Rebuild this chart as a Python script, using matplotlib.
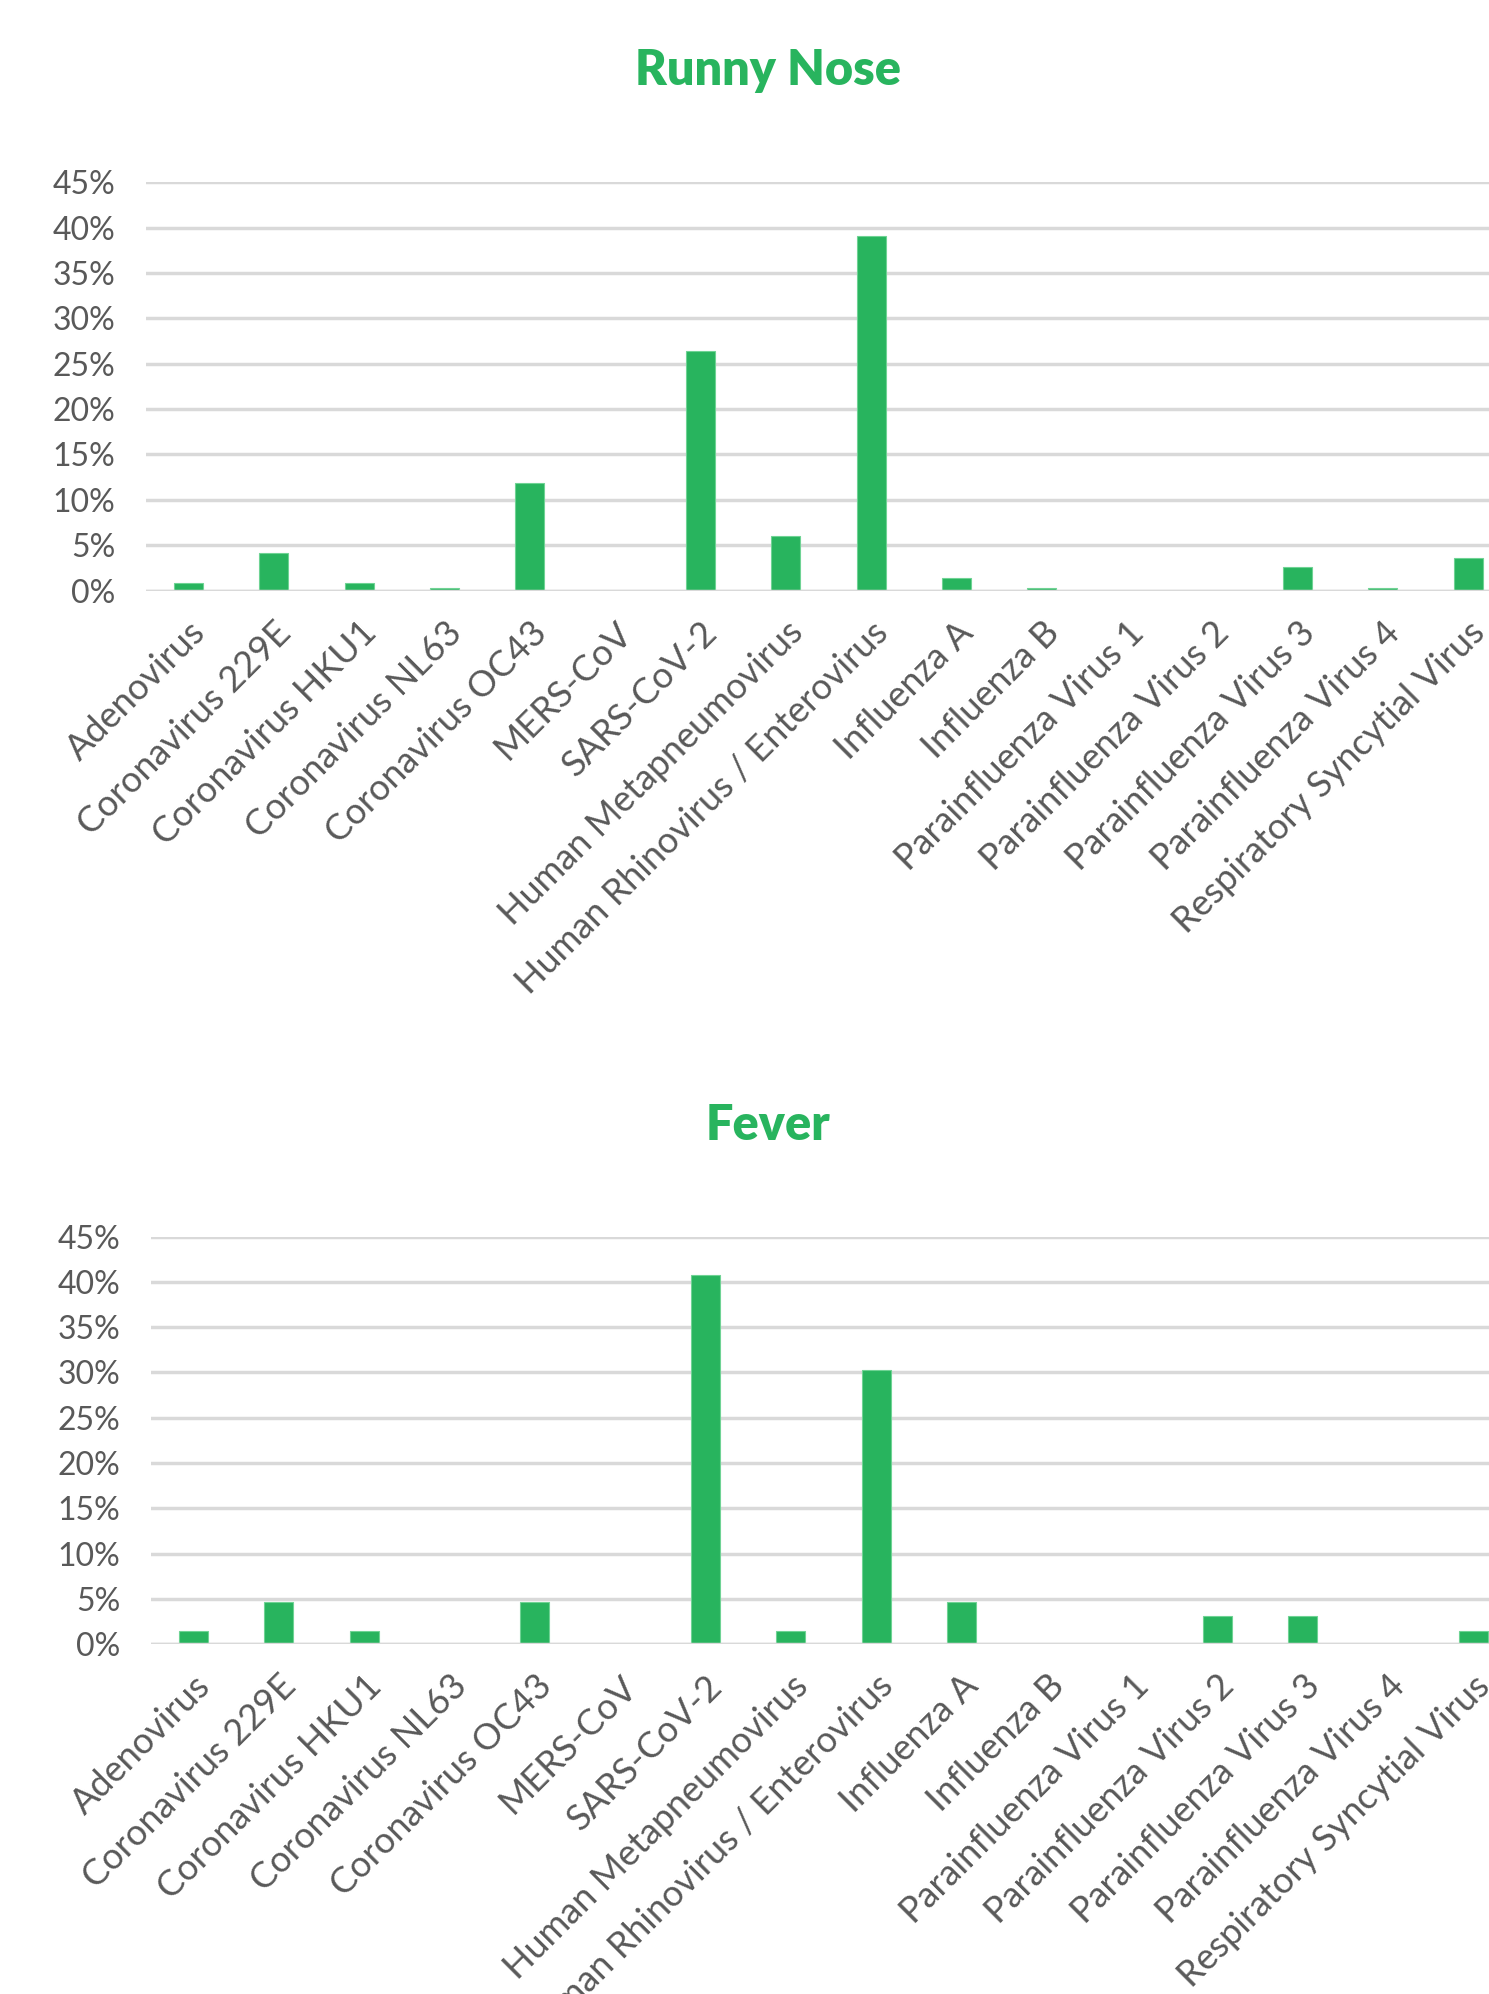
import matplotlib
matplotlib.use("Agg")
import matplotlib.pyplot as plt
import numpy as np
from matplotlib.ticker import PercentFormatter

# 카테고리 (두 차트 공통)
viruses = [
    "Adenovirus", "Coronavirus 229E", "Coronavirus HKU1", "Coronavirus NL63",
    "Coronavirus OC43", "MERS-CoV", "SARS-CoV-2", "Human Metapneumovirus",
    "Human Rhinovirus / Enterovirus", "Influenza A", "Influenza B",
    "Parainfluenza Virus 1", "Parainfluenza Virus 2", "Parainfluenza Virus 3",
    "Parainfluenza Virus 4", "Respiratory Syncytial Virus",
]

# 값 (%)
runny_nose = [0.8, 4.2, 0.8, 0.3, 11.9, 0.0, 26.4, 6.0, 39.1, 1.4, 0.3, 0.0, 0.0, 2.6, 0.3, 3.6]
fever = [1.4, 4.7, 1.4, 0.0, 4.7, 0.0, 40.8, 1.4, 30.3, 4.7, 0.0, 0.0, 3.1, 3.1, 0.0, 1.4]

y_ticks = list(range(0, 50, 5))

GREEN = "#28b45e"
GRID = "#d9d9d9"
TEXT = "#595959"

plt.rcParams["font.family"] = ["Lato", "DejaVu Sans"]

fig = plt.figure(figsize=(14.89, 19.94), dpi=100)


def draw(ax, values, title, title_y):
    x = np.arange(len(viruses))
    ax.bar(x, values, width=0.34, color=GREEN, edgecolor="#6fd394", linewidth=0.8, zorder=2)
    ax.axhline(0, color=GRID, lw=2.5, zorder=3)
    ax.set_xlim(-0.5, len(viruses) - 0.5)
    ax.set_ylim(0, 45)
    ax.set_yticks(y_ticks)
    ax.yaxis.set_major_formatter(PercentFormatter(decimals=0))
    ax.grid(axis="y", color=GRID, lw=2.5, zorder=0)
    ax.set_axisbelow(True)
    for s in ax.spines.values():
        s.set_visible(False)
    ax.tick_params(axis="both", length=0, labelcolor=TEXT)
    ax.tick_params(axis="y", pad=22, labelsize=23)
    ax.tick_params(axis="x", pad=18, labelsize=26)
    ax.set_xticks(x)
    ax.set_xticklabels(viruses, rotation=45, ha="right", rotation_mode="anchor")
    fig.text(0.516, title_y, title, ha="center", va="center",
             fontsize=35, fontweight="heavy", color=GREEN)


ax1 = fig.add_axes([0.098, 0.7038, 0.9167, 0.2048])
draw(ax1, runny_nose, "Runny Nose", 0.9645)

ax2 = fig.add_axes([0.1014, 0.1755, 0.9167, 0.2043])
draw(ax2, fever, "Fever", 0.4355)

fig.savefig("out.png", dpi=100)
